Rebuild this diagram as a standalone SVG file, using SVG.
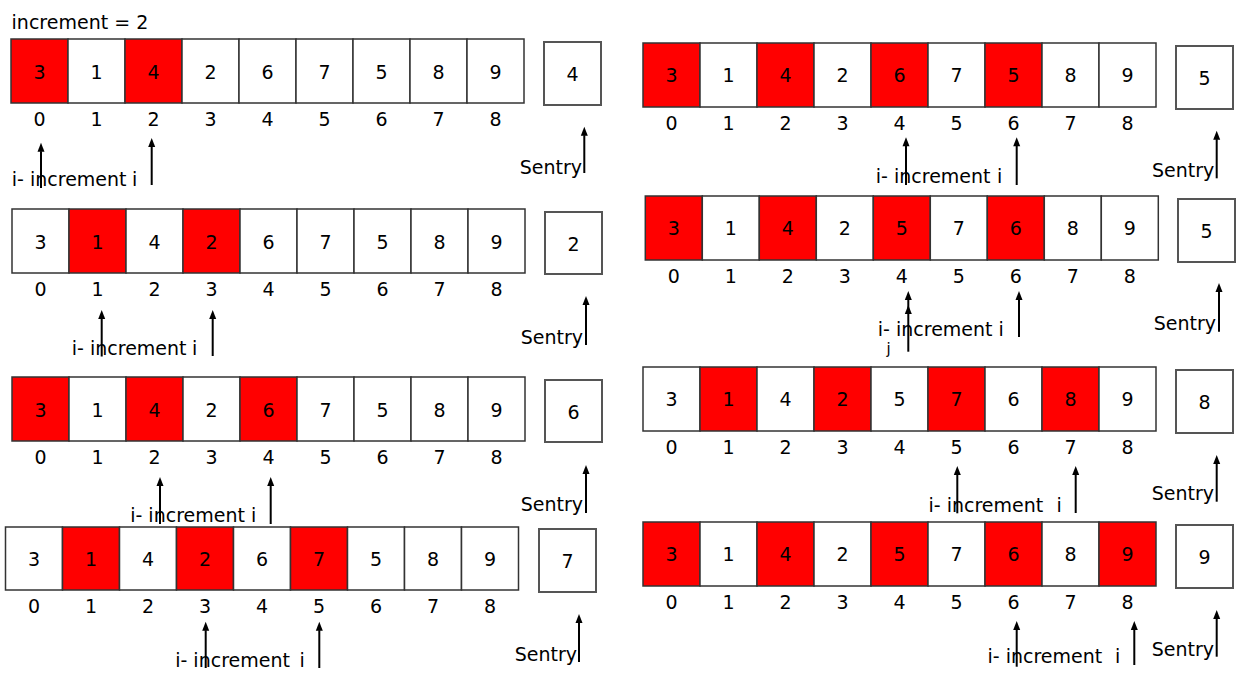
<svg xmlns="http://www.w3.org/2000/svg" width="1251" height="694" viewBox="0 0 1251 694">
<style>
.c{fill:#fff;stroke:#333;stroke-width:1.5}
.r{fill:#f00}
.s{fill:#fff;stroke:#555;stroke-width:2}
text{font-family:"DejaVu Sans",sans-serif;font-size:19px;fill:#000}
.m{text-anchor:middle}
.a{stroke:#000;stroke-width:2;marker-end:url(#ah)}
</style>
<defs>
<marker id="ah" markerUnits="userSpaceOnUse" markerWidth="10" markerHeight="8" viewBox="0 -4 9 8" refX="0.5" refY="0" orient="auto"><path d="M0,-3.5 L9,0 L0,3.5 z" fill="#000"/></marker>
</defs>
<text x="11.6" y="29.3">increment = 2</text>

<g id="array-l1">
<rect class="c r" x="11" y="39" width="57" height="64"/><rect class="c" x="68" y="39" width="57" height="64"/><rect class="c r" x="125" y="39" width="57" height="64"/><rect class="c" x="182" y="39" width="57" height="64"/><rect class="c" x="239" y="39" width="57" height="64"/><rect class="c" x="296" y="39" width="57" height="64"/><rect class="c" x="353" y="39" width="57" height="64"/><rect class="c" x="410" y="39" width="57" height="64"/><rect class="c" x="467" y="39" width="57" height="64"/>
<text class="m" x="39.5" y="79">3</text><text class="m" x="96.5" y="79">1</text><text class="m" x="153.5" y="79">4</text><text class="m" x="210.5" y="79">2</text><text class="m" x="267.5" y="79">6</text><text class="m" x="324.5" y="79">7</text><text class="m" x="381.5" y="79">5</text><text class="m" x="438.5" y="79">8</text><text class="m" x="495.5" y="79">9</text>
<text class="m" x="39.5" y="126">0</text><text class="m" x="96.5" y="126">1</text><text class="m" x="153.5" y="126">2</text><text class="m" x="210.5" y="126">3</text><text class="m" x="267.5" y="126">4</text><text class="m" x="324.5" y="126">5</text><text class="m" x="381.5" y="126">6</text><text class="m" x="438.5" y="126">7</text><text class="m" x="495.5" y="126">8</text>
</g>
<g id="sentry-l1"><rect class="s" x="544" y="42" width="57" height="63"/><text class="m" x="572.5" y="81">4</text><text x="519.7" y="174">Sentry</text></g>
<g id="label-l1"><text x="11.8" y="186">i- increment <tspan x="132">i</tspan></text></g>

<g id="array-l2">
<rect class="c" x="12" y="209" width="57" height="64"/><rect class="c r" x="69" y="209" width="57" height="64"/><rect class="c" x="126" y="209" width="57" height="64"/><rect class="c r" x="183" y="209" width="57" height="64"/><rect class="c" x="240" y="209" width="57" height="64"/><rect class="c" x="297" y="209" width="57" height="64"/><rect class="c" x="354" y="209" width="57" height="64"/><rect class="c" x="411" y="209" width="57" height="64"/><rect class="c" x="468" y="209" width="57" height="64"/>
<text class="m" x="40.5" y="248.5">3</text><text class="m" x="97.5" y="248.5">1</text><text class="m" x="154.5" y="248.5">4</text><text class="m" x="211.5" y="248.5">2</text><text class="m" x="268.5" y="248.5">6</text><text class="m" x="325.5" y="248.5">7</text><text class="m" x="382.5" y="248.5">5</text><text class="m" x="439.5" y="248.5">8</text><text class="m" x="496.5" y="248.5">9</text>
<text class="m" x="40.5" y="296">0</text><text class="m" x="97.5" y="296">1</text><text class="m" x="154.5" y="296">2</text><text class="m" x="211.5" y="296">3</text><text class="m" x="268.5" y="296">4</text><text class="m" x="325.5" y="296">5</text><text class="m" x="382.5" y="296">6</text><text class="m" x="439.5" y="296">7</text><text class="m" x="496.5" y="296">8</text>
</g>
<g id="sentry-l2"><rect class="s" x="545" y="212" width="57" height="62"/><text class="m" x="573.5" y="250.5">2</text><text x="520.7" y="344">Sentry</text></g>
<g id="label-l2"><text x="71.8" y="355">i- increment <tspan x="192">i</tspan></text></g>

<g id="array-l3">
<rect class="c r" x="12" y="377" width="57" height="64"/><rect class="c" x="69" y="377" width="57" height="64"/><rect class="c r" x="126" y="377" width="57" height="64"/><rect class="c" x="183" y="377" width="57" height="64"/><rect class="c r" x="240" y="377" width="57" height="64"/><rect class="c" x="297" y="377" width="57" height="64"/><rect class="c" x="354" y="377" width="57" height="64"/><rect class="c" x="411" y="377" width="57" height="64"/><rect class="c" x="468" y="377" width="57" height="64"/>
<text class="m" x="40.5" y="416.5">3</text><text class="m" x="97.5" y="416.5">1</text><text class="m" x="154.5" y="416.5">4</text><text class="m" x="211.5" y="416.5">2</text><text class="m" x="268.5" y="416.5">6</text><text class="m" x="325.5" y="416.5">7</text><text class="m" x="382.5" y="416.5">5</text><text class="m" x="439.5" y="416.5">8</text><text class="m" x="496.5" y="416.5">9</text>
<text class="m" x="40.5" y="464">0</text><text class="m" x="97.5" y="464">1</text><text class="m" x="154.5" y="464">2</text><text class="m" x="211.5" y="464">3</text><text class="m" x="268.5" y="464">4</text><text class="m" x="325.5" y="464">5</text><text class="m" x="382.5" y="464">6</text><text class="m" x="439.5" y="464">7</text><text class="m" x="496.5" y="464">8</text>
</g>
<g id="sentry-l3"><rect class="s" x="545" y="380" width="57" height="62"/><text class="m" x="573.5" y="418.5">6</text><text x="520.7" y="511">Sentry</text></g>
<g id="label-l3"><text x="130.2" y="522.3">i- increment <tspan x="251">i</tspan></text></g>

<g id="array-l4">
<rect class="c" x="5.5" y="527" width="57" height="63"/><rect class="c r" x="62.5" y="527" width="57" height="63"/><rect class="c" x="119.5" y="527" width="57" height="63"/><rect class="c r" x="176.5" y="527" width="57" height="63"/><rect class="c" x="233.5" y="527" width="57" height="63"/><rect class="c r" x="290.5" y="527" width="57" height="63"/><rect class="c" x="347.5" y="527" width="57" height="63"/><rect class="c" x="404.5" y="527" width="57" height="63"/><rect class="c" x="461.5" y="527" width="57" height="63"/>
<text class="m" x="34" y="566">3</text><text class="m" x="91" y="566">1</text><text class="m" x="148" y="566">4</text><text class="m" x="205" y="566">2</text><text class="m" x="262" y="566">6</text><text class="m" x="319" y="566">7</text><text class="m" x="376" y="566">5</text><text class="m" x="433" y="566">8</text><text class="m" x="490" y="566">9</text>
<text class="m" x="34" y="613">0</text><text class="m" x="91" y="613">1</text><text class="m" x="148" y="613">2</text><text class="m" x="205" y="613">3</text><text class="m" x="262" y="613">4</text><text class="m" x="319" y="613">5</text><text class="m" x="376" y="613">6</text><text class="m" x="433" y="613">7</text><text class="m" x="490" y="613">8</text>
</g>
<g id="sentry-l4"><rect class="s" x="539" y="529" width="57" height="63"/><text class="m" x="567.5" y="568">7</text><text x="514.7" y="661">Sentry</text></g>
<g id="label-l4"><text x="175.2" y="666.7">i- increment <tspan x="299.5">i</tspan></text></g>

<g id="array-r1">
<rect class="c r" x="643" y="43" width="57" height="64"/><rect class="c" x="700" y="43" width="57" height="64"/><rect class="c r" x="757" y="43" width="57" height="64"/><rect class="c" x="814" y="43" width="57" height="64"/><rect class="c r" x="871" y="43" width="57" height="64"/><rect class="c" x="928" y="43" width="57" height="64"/><rect class="c r" x="985" y="43" width="57" height="64"/><rect class="c" x="1042" y="43" width="57" height="64"/><rect class="c" x="1099" y="43" width="57" height="64"/>
<text class="m" x="671.5" y="82">3</text><text class="m" x="728.5" y="82">1</text><text class="m" x="785.5" y="82">4</text><text class="m" x="842.5" y="82">2</text><text class="m" x="899.5" y="82">6</text><text class="m" x="956.5" y="82">7</text><text class="m" x="1013.5" y="82">5</text><text class="m" x="1070.5" y="82">8</text><text class="m" x="1127.5" y="82">9</text>
<text class="m" x="671.5" y="129.5">0</text><text class="m" x="728.5" y="129.5">1</text><text class="m" x="785.5" y="129.5">2</text><text class="m" x="842.5" y="129.5">3</text><text class="m" x="899.5" y="129.5">4</text><text class="m" x="956.5" y="129.5">5</text><text class="m" x="1013.5" y="129.5">6</text><text class="m" x="1070.5" y="129.5">7</text><text class="m" x="1127.5" y="129.5">8</text>
</g>
<g id="sentry-r1"><rect class="s" x="1176" y="46" width="57" height="63"/><text class="m" x="1204.5" y="85">5</text><text x="1152" y="176.7">Sentry</text></g>
<g id="label-r1"><text x="875.8" y="183.3">i- increment <tspan x="997">i</tspan></text></g>

<g id="array-r2">
<rect class="c r" x="645.3" y="196" width="57" height="64"/><rect class="c" x="702.3" y="196" width="57" height="64"/><rect class="c r" x="759.3" y="196" width="57" height="64"/><rect class="c" x="816.3" y="196" width="57" height="64"/><rect class="c r" x="873.3" y="196" width="57" height="64"/><rect class="c" x="930.3" y="196" width="57" height="64"/><rect class="c r" x="987.3" y="196" width="57" height="64"/><rect class="c" x="1044.3" y="196" width="57" height="64"/><rect class="c" x="1101.3" y="196" width="57" height="64"/>
<text class="m" x="673.8" y="235">3</text><text class="m" x="730.8" y="235">1</text><text class="m" x="787.8" y="235">4</text><text class="m" x="844.8" y="235">2</text><text class="m" x="901.8" y="235">5</text><text class="m" x="958.8" y="235">7</text><text class="m" x="1015.8" y="235">6</text><text class="m" x="1072.8" y="235">8</text><text class="m" x="1129.8" y="235">9</text>
<text class="m" x="673.8" y="283">0</text><text class="m" x="730.8" y="283">1</text><text class="m" x="787.8" y="283">2</text><text class="m" x="844.8" y="283">3</text><text class="m" x="901.8" y="283">4</text><text class="m" x="958.8" y="283">5</text><text class="m" x="1015.8" y="283">6</text><text class="m" x="1072.8" y="283">7</text><text class="m" x="1129.8" y="283">8</text>
</g>
<g id="sentry-r2"><rect class="s" x="1178" y="199" width="57" height="63"/><text class="m" x="1206.5" y="238">5</text><text x="1153.7" y="330">Sentry</text></g>
<g id="label-r2"><text x="877.8" y="336">i- increment <tspan x="998.5">i</tspan></text><text x="886.5" y="354" style="font-size:15px">j</text></g>

<g id="array-r3">
<rect class="c" x="643" y="367" width="57" height="64"/><rect class="c r" x="700" y="367" width="57" height="64"/><rect class="c" x="757" y="367" width="57" height="64"/><rect class="c r" x="814" y="367" width="57" height="64"/><rect class="c" x="871" y="367" width="57" height="64"/><rect class="c r" x="928" y="367" width="57" height="64"/><rect class="c" x="985" y="367" width="57" height="64"/><rect class="c r" x="1042" y="367" width="57" height="64"/><rect class="c" x="1099" y="367" width="57" height="64"/>
<text class="m" x="671.5" y="406">3</text><text class="m" x="728.5" y="406">1</text><text class="m" x="785.5" y="406">4</text><text class="m" x="842.5" y="406">2</text><text class="m" x="899.5" y="406">5</text><text class="m" x="956.5" y="406">7</text><text class="m" x="1013.5" y="406">6</text><text class="m" x="1070.5" y="406">8</text><text class="m" x="1127.5" y="406">9</text>
<text class="m" x="671.5" y="454">0</text><text class="m" x="728.5" y="454">1</text><text class="m" x="785.5" y="454">2</text><text class="m" x="842.5" y="454">3</text><text class="m" x="899.5" y="454">4</text><text class="m" x="956.5" y="454">5</text><text class="m" x="1013.5" y="454">6</text><text class="m" x="1070.5" y="454">7</text><text class="m" x="1127.5" y="454">8</text>
</g>
<g id="sentry-r3"><rect class="s" x="1176" y="370" width="57" height="63"/><text class="m" x="1204.5" y="409">8</text><text x="1151.7" y="500">Sentry</text></g>
<g id="label-r3"><text x="928.5" y="511.7">i- increment <tspan x="1056.5">i</tspan></text></g>

<g id="array-r4">
<rect class="c r" x="643" y="522" width="57" height="64"/><rect class="c" x="700" y="522" width="57" height="64"/><rect class="c r" x="757" y="522" width="57" height="64"/><rect class="c" x="814" y="522" width="57" height="64"/><rect class="c r" x="871" y="522" width="57" height="64"/><rect class="c" x="928" y="522" width="57" height="64"/><rect class="c r" x="985" y="522" width="57" height="64"/><rect class="c" x="1042" y="522" width="57" height="64"/><rect class="c r" x="1099" y="522" width="57" height="64"/>
<text class="m" x="671.5" y="561">3</text><text class="m" x="728.5" y="561">1</text><text class="m" x="785.5" y="561">4</text><text class="m" x="842.5" y="561">2</text><text class="m" x="899.5" y="561">5</text><text class="m" x="956.5" y="561">7</text><text class="m" x="1013.5" y="561">6</text><text class="m" x="1070.5" y="561">8</text><text class="m" x="1127.5" y="561">9</text>
<text class="m" x="671.5" y="609">0</text><text class="m" x="728.5" y="609">1</text><text class="m" x="785.5" y="609">2</text><text class="m" x="842.5" y="609">3</text><text class="m" x="899.5" y="609">4</text><text class="m" x="956.5" y="609">5</text><text class="m" x="1013.5" y="609">6</text><text class="m" x="1070.5" y="609">7</text><text class="m" x="1127.5" y="609">8</text>
</g>
<g id="sentry-r4"><rect class="s" x="1176" y="525" width="57" height="63"/><text class="m" x="1204.5" y="564">9</text><text x="1151.7" y="656">Sentry</text></g>
<g id="label-r4"><text x="987.5" y="663.3">i- increment <tspan x="1115">i</tspan></text></g>

<g id="connectors">
<line class="a" x1="41" y1="188" x2="41" y2="151.2"/>
<line class="a" x1="151.7" y1="185" x2="151.7" y2="146.5"/>
<line class="a" x1="584.3" y1="173" x2="584.3" y2="135.2"/>
<line class="a" x1="101.7" y1="356.5" x2="101.7" y2="318.5"/>
<line class="a" x1="212.7" y1="356" x2="212.7" y2="318.5"/>
<line class="a" x1="586" y1="345" x2="586" y2="304.5"/>
<line class="a" x1="160" y1="524" x2="160" y2="485.5"/>
<line class="a" x1="270.7" y1="524" x2="270.7" y2="485.5"/>
<line class="a" x1="586" y1="513" x2="586" y2="473.5"/>
<line class="a" x1="205.7" y1="668" x2="205.7" y2="630.2"/>
<line class="a" x1="319.3" y1="668" x2="319.3" y2="630.2"/>
<line class="a" x1="579" y1="662" x2="579" y2="622.5"/>
<line class="a" x1="906" y1="185" x2="906" y2="145.8"/>
<line class="a" x1="1016.7" y1="185" x2="1016.7" y2="145.8"/>
<line class="a" x1="1216.7" y1="178.3" x2="1216.7" y2="139.2"/>
<line class="a" x1="908.3" y1="351.7" x2="908.3" y2="299.5"/>
<path d="M908.3,305 L904.8,314 L911.8,314 z" fill="#000"/>
<line class="a" x1="1019" y1="337" x2="1019" y2="299.5"/>
<line class="a" x1="1219" y1="331.7" x2="1219" y2="291.5"/>
<line class="a" x1="957.3" y1="513.3" x2="957.3" y2="474.5"/>
<line class="a" x1="1075.7" y1="513" x2="1075.7" y2="474.5"/>
<line class="a" x1="1216.7" y1="501.7" x2="1216.7" y2="463.5"/>
<line class="a" x1="1016.7" y1="666.7" x2="1016.7" y2="629.5"/>
<line class="a" x1="1134.3" y1="665" x2="1134.3" y2="629.5"/>
<line class="a" x1="1216.7" y1="656.7" x2="1216.7" y2="618.5"/>
</g>
</svg>
